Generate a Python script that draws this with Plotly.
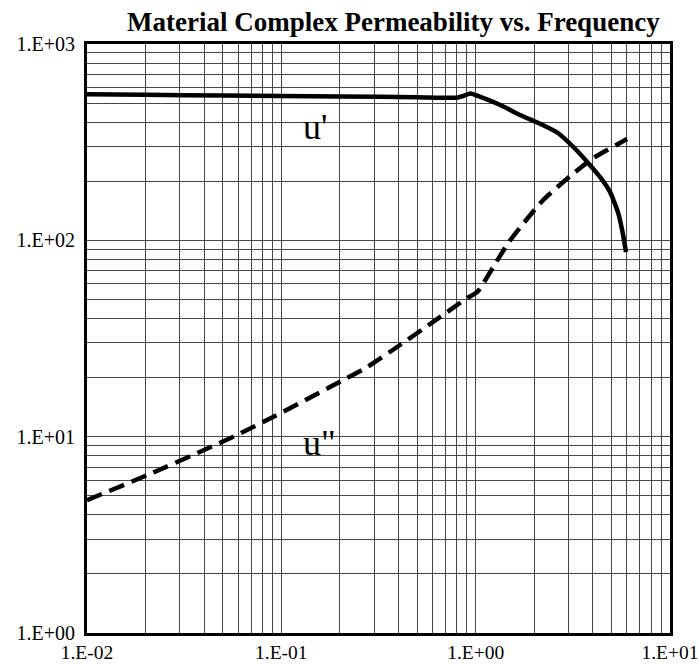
import plotly.graph_objects as go
import math

# ---- data ----
freq_u1 = [0.01, 0.02, 0.05, 0.1, 0.2, 0.5, 0.8, 0.87, 0.94, 1.05, 1.34, 1.69, 2.2, 2.65,
           3.2, 3.79, 4.4, 4.92, 5.41, 5.7, 5.94]
mu_real = [555, 551, 546, 543, 540, 536, 533, 545, 560, 540, 489, 435, 388, 352,
           297, 248, 208, 176, 138, 110, 87]

freq_u2 = [0.01, 0.0204, 0.0395, 0.0592, 0.0906, 0.178, 0.218, 0.276, 0.408, 0.604,
           0.903, 1.02, 1.23, 1.47, 1.69, 2.22, 3.06, 4.02, 6.01]
mu_imag = [4.75, 6.37, 8.5, 10.2, 12.6, 17.9, 19.9, 22.6, 29.3, 38.4,
           50.8, 54.6, 73.1, 96.9, 116, 160, 212, 262, 328]

x_tickvals = [0.01, 0.1, 1, 10]
x_ticktext = ["1.E-02", "1.E-01", "1.E+00", "1.E+01"]
y_tickvals = [1, 10, 100, 1000]
y_ticktext = ["1.E+00", "1.E+01", "1.E+02", "1.E+03"]

title_text = "Material Complex Permeability vs. Frequency"
label_real = "u'"
label_imag = 'u"'

FONT = "Liberation Serif, Times New Roman, serif"
GRID = "#474747"

fig = go.Figure()
fig.add_trace(go.Scatter(x=freq_u1, y=mu_real, mode="lines", name="u'",
                         line=dict(color="black", width=4.5, shape="spline", smoothing=0.5)))
fig.add_trace(go.Scatter(x=freq_u2, y=mu_imag, mode="lines", name='u"',
                         line=dict(color="black", width=4.5, dash="16px,8px",
                                   shape="spline", smoothing=0.6)))

axis_common = dict(
    type="log", automargin=False,
    showline=True, linecolor="black", linewidth=3, mirror=True,
    showgrid=True, gridcolor=GRID, gridwidth=1,
    ticks="outside", tickcolor="rgba(0,0,0,0)",
    ticklabeloverflow="allow",
    zeroline=False,
    minor=dict(dtick="D1", showgrid=True, gridcolor=GRID, gridwidth=1, ticks=""),
)

fig.update_xaxes(range=[-2, 1], tickvals=x_tickvals, ticktext=x_ticktext, ticklen=0,
                 tickfont=dict(family=FONT, size=19.5, color="black"),
                 **axis_common)
fig.update_yaxes(range=[0, 3], tickvals=y_tickvals, ticktext=y_ticktext, ticklen=5,
                 tickfont=dict(family=FONT, size=20, color="black"),
                 **axis_common)

fig.add_annotation(x=math.log10(0.15), y=math.log10(356), xref="x", yref="y",
                   yshift=5, text=label_real, showarrow=False,
                   font=dict(family=FONT, size=36, color="black"))
fig.add_annotation(x=math.log10(0.158), y=math.log10(9.06), xref="x", yref="y",
                   yshift=2, text=label_imag, showarrow=False,
                   font=dict(family=FONT, size=36, color="black"))
fig.add_annotation(x=(393 - 87) / 583, y=1, xref="paper", yref="paper",
                   xanchor="center", yanchor="bottom", yshift=5,
                   text="<b>" + title_text + "</b>", showarrow=False,
                   font=dict(family=FONT, size=27, color="black"))

# plot box at x 87..670, y 44..633 of the 699x664 window
fig.update_layout(
    width=699, height=664,
    margin=dict(l=87, r=29, t=44, b=31, autoexpand=False),
    paper_bgcolor="white", plot_bgcolor="white",
    showlegend=False,
)

# remove the default 8px page margin so the figure fills the window exactly
fig.write_html("out.html",
               config={"displayModeBar": False},
               post_script="document.body.style.margin='0';"
                           "document.body.style.overflow='hidden';")
